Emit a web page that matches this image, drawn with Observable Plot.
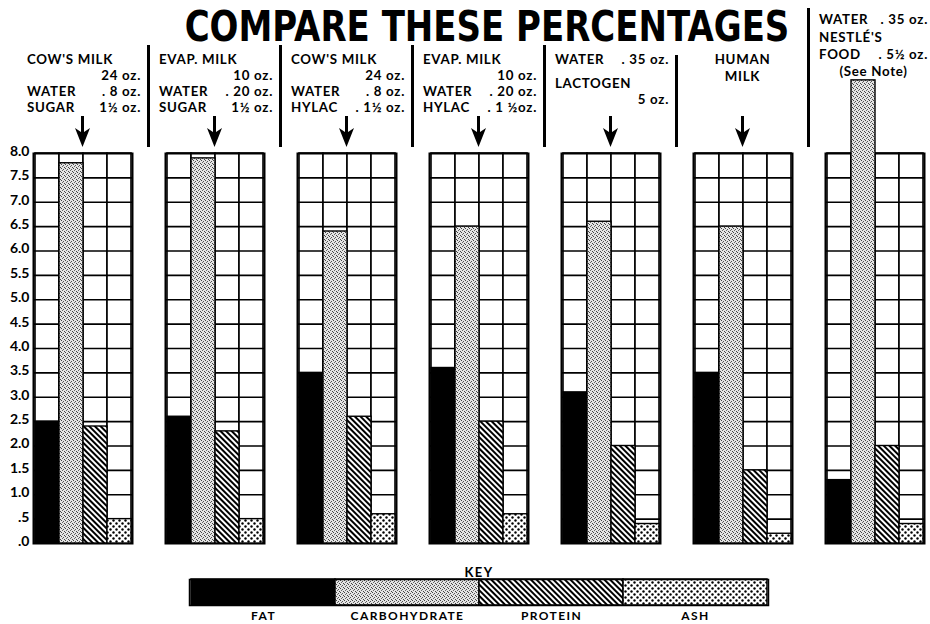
<!DOCTYPE html>
<html>
<head>
<meta charset="utf-8">
<script src="https://cdn.jsdelivr.net/npm/d3@7"></script>
<script src="https://cdn.jsdelivr.net/npm/@observablehq/plot@0.6"></script>
<style>
  html, body { margin: 0; padding: 0; background: #fff; }
  #wrap { width: 930px; height: 624px; overflow: hidden; }
  #key text { letter-spacing: 1.4px; }
</style>
</head>
<body>
<svg width="0" height="0" style="position:absolute">
  <defs>
    <pattern id="carbPat" width="4" height="4" patternUnits="userSpaceOnUse">
      <rect width="4" height="4" fill="#e4e4e4"/>
      <rect x="0" y="0" width="1" height="1" fill="#444"/>
      <rect x="2" y="1" width="1" height="1" fill="#555"/>
      <rect x="1" y="2" width="1" height="1" fill="#666"/>
      <rect x="3" y="3" width="1" height="1" fill="#444"/>
    </pattern>
    <pattern id="protPat" width="4" height="4" patternUnits="userSpaceOnUse" patternTransform="rotate(-45)">
      <rect width="4" height="4" fill="#fff"/>
      <rect width="2" height="4" fill="#000"/>
    </pattern>
    <pattern id="ashPat" width="6" height="6" patternUnits="userSpaceOnUse">
      <rect width="6" height="6" fill="#fff"/>
      <circle cx="1.5" cy="1.5" r="1.2" fill="#000"/>
      <circle cx="4.5" cy="4.5" r="1.2" fill="#000"/>
    </pattern>
  </defs>
</svg>
<div id="wrap">
  <div id="main"></div>
  <div id="key"></div>
</div>
<script>
// ---------- data ----------
const title = "COMPARE THESE PERCENTAGES";
const panels = ["Cow's milk + sugar", "Evap. milk + sugar", "Cow's milk + Hylac", "Evap. milk + Hylac", "Lactogen", "Human milk", "Nestlé's food"];
const nutrients = ["FAT", "CARBOHYDRATE", "PROTEIN", "ASH"];
const fat          = [2.5, 2.6, 3.5, 3.6, 3.1, 3.5, 1.3];
const carbohydrate = [7.8, 7.9, 6.4, 6.5, 6.6, 6.5, 9.5];
const protein      = [2.4, 2.3, 2.6, 2.5, 2.0, 1.5, 2.0];
const ash          = [0.5, 0.5, 0.6, 0.6, 0.4, 0.2, 0.4];
const yTicks = [0, 0.5, 1, 1.5, 2, 2.5, 3, 3.5, 4, 4.5, 5, 5.5, 6, 6.5, 7, 7.5, 8];
const headerLines = [
  ["COW'S MILK", "24 oz.", "WATER . 8 oz.", "SUGAR 1½ oz."],
  ["EVAP. MILK", "10 oz.", "WATER . 20 oz.", "SUGAR 1½ oz."],
  ["COW'S MILK", "24 oz.", "WATER . 8 oz.", "HYLAC . 1½ oz."],
  ["EVAP. MILK", "10 oz.", "WATER . 20 oz.", "HYLAC . 1 ½oz."],
  ["WATER . 35 oz.", "LACTOGEN", "5 oz."],
  ["HUMAN", "MILK"],
  ["WATER . 35 oz.", "NESTLÉ'S", "FOOD . 5½ oz.", "(See Note)"]
];
const keyTitle = "KEY";

// ---------- build ----------
const series = [fat, carbohydrate, protein, ash];
const rows = panels.flatMap((p, i) => nutrients.map((n, j) => ({panel: p, nutrient: n, value: series[j][i]})));
const cells = panels.flatMap(p => nutrients.map(n => ({panel: p, nutrient: n})));
const fills = ["#000", "url(#carbPat)", "url(#protPat)", "url(#ashPat)"];
const fmt = d => d3.format(".1f")(d).replace(/^0\./, ".");

const chart = Plot.plot({
  width: 930, height: 548,
  marginTop: 153, marginBottom: 5, marginLeft: 32, marginRight: 6,
  style: {fontFamily: "Lato, 'DejaVu Sans', sans-serif", fontWeight: "bold", background: "#fff"},
  fx: {domain: panels, paddingInner: 0.25, paddingOuter: 0, axis: null},
  x: {domain: nutrients, padding: 0, axis: null},
  y: {domain: [0, 8]},
  color: {domain: nutrients, range: fills},
  marks: [
    Plot.barY(cells, {fx: "panel", x: "nutrient", y1: 0, y2: 8, fill: "#fff", stroke: "#000", strokeWidth: 1.6, inset: 0}),
    Plot.ruleY(yTicks.filter(t => t > 0 && t < 8), {stroke: "#000", strokeWidth: 1.6}),
    Plot.frame({stroke: "#000", strokeWidth: 2}),
    Plot.barY(rows, {fx: "panel", x: "nutrient", y1: 0, y2: "value", fill: "nutrient", stroke: "#000", strokeWidth: 1.4, inset: 0}),
    Plot.axisY(yTicks, {tickFormat: fmt, tickSize: 0, tickPadding: 4, fontSize: 14, label: null, dy: -2})
  ]
});
document.getElementById("main").appendChild(chart);

// headers, separators, arrows, title (laid out with the fx scale)
const svg = d3.select(chart);
const fxs = chart.scale("fx");
const bw = fxs.bandwidth;
const step = fxs.step;
const lineY = [[64, 80, 96, 112], [64, 80, 96, 112], [64, 80, 96, 112], [64, 80, 96, 112], [64, 88, 104], [64, 81], [24, 42, 59, 76]];
const sepTop = [45, 45, 45, 45, 55, 8];
const hdr = svg.append("g")
  .attr("font-family", "Lato, 'DejaVu Sans', sans-serif")
  .attr("font-weight", "bold").attr("font-size", 13.3)
  .attr("letter-spacing", "0.7px").attr("fill", "#000");

panels.forEach((p, i) => {
  const x0 = fxs.apply(p), x1 = x0 + bw;
  const left = x0 - 6, right = Math.min(x1 + 9, 928), mid = (left + right) / 2;
  headerLines[i].forEach((t, j) => {
    const y = lineY[i][j];
    if (i === 5 || t.startsWith("(")) {
      hdr.append("text").attr("x", i === 5 ? (x0 + x1) / 2 : mid).attr("y", y).attr("text-anchor", "middle").text(t);
    } else if (/^\d+ oz\.$/.test(t)) {
      hdr.append("text").attr("x", right).attr("y", y).attr("text-anchor", "end").text(t);
    } else if (/oz\.$/.test(t)) {
      const k = t.indexOf(" ");
      hdr.append("text").attr("x", left).attr("y", y).attr("text-anchor", "start").text(t.slice(0, k));
      hdr.append("text").attr("x", right).attr("y", y).attr("text-anchor", "end").text(t.slice(k + 1).trim());
    } else {
      hdr.append("text").attr("x", left).attr("y", y).attr("text-anchor", "start").text(t);
    }
  });
  if (i < panels.length - 1) {
    const sx = x1 + (step - bw) / 2;
    svg.append("line").attr("x1", sx).attr("x2", sx).attr("y1", sepTop[i]).attr("y2", 147)
      .attr("stroke", "#000").attr("stroke-width", 3);
    const cx = (x0 + x1) / 2;
    svg.append("line").attr("x1", cx).attr("x2", cx).attr("y1", 116).attr("y2", 138)
      .attr("stroke", "#000").attr("stroke-width", 3);
    svg.append("path")
      .attr("d", `M${cx},147 L${cx - 7.5},128 L${cx},133 L${cx + 7.5},128 Z`)
      .attr("fill", "#000");
  }
});

// title: natural width close to the target, stretched vertically for the heavy poster look
const titleText = svg.append("text")
  .attr("transform", "translate(487,41) scale(1,1.25)")
  .attr("x", 0).attr("y", 0).attr("text-anchor", "middle")
  .attr("font-family", "'DejaVu Sans', sans-serif").attr("font-weight", "bold")
  .attr("font-size", 34).attr("fill", "#000")
  .text(title);
const natural = titleText.node().getComputedTextLength();
if (Math.abs(natural - 605) > 2) titleText.attr("font-size", 34 * 605 / natural);

// ---------- key ----------
const key = Plot.plot({
  width: 930, height: 76,
  marginTop: 31, marginBottom: 19, marginLeft: 189, marginRight: 162,
  style: {fontFamily: "Lato, 'DejaVu Sans', sans-serif", fontWeight: "bold", background: "#fff"},
  x: {domain: nutrients, padding: 0, axis: null},
  color: {domain: nutrients, range: fills},
  marks: [
    Plot.cell(nutrients, {x: d => d, fill: d => d, stroke: "#000", strokeWidth: 1.5, inset: 0}),
    Plot.frame({stroke: "#000", strokeWidth: 1.5}),
    Plot.axisX({tickSize: 0, tickPadding: 6, fontSize: 12, label: null}),
    Plot.text([keyTitle], {frameAnchor: "top", dy: -12, fontSize: 13, fill: "#000"})
  ]
});
document.getElementById("key").appendChild(key);
</script>
</body>
</html>
